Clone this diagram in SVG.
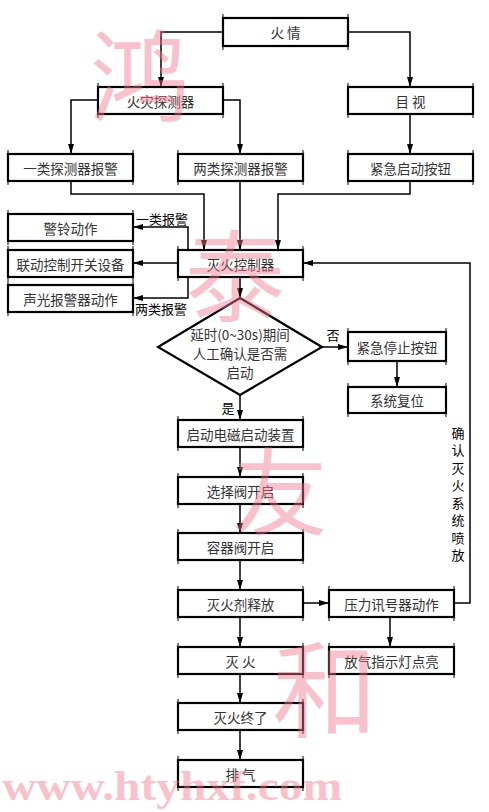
<svg xmlns="http://www.w3.org/2000/svg" width="489" height="812" viewBox="0 0 489 812">
<defs>
<marker id="arr" viewBox="0 0 10 6" refX="10" refY="3" markerWidth="10" markerHeight="6" markerUnits="userSpaceOnUse" orient="auto">
<path d="M0,0 L10,3 L0,6 z" fill="#000"/>
</marker>
<style>
.box{fill:#fff;stroke:#000;stroke-width:2.2}
.tick{stroke:#000;stroke-width:1}
.t{font-family:"Noto Sans CJK SC","Noto Sans",sans-serif;font-size:13.5px;fill:#333;text-anchor:middle;dominant-baseline:central}
.lbl{font-family:"Noto Sans CJK SC","Noto Sans",sans-serif;font-size:13px;fill:#000;text-anchor:middle;dominant-baseline:central}
.c{fill:none;stroke:#000;stroke-width:1.5}
.c2{fill:none;stroke:#000;stroke-width:1.5;marker-end:url(#arr)}
.wm{font-family:"Noto Sans CJK SC",sans-serif;fill:#f07890;opacity:0.45;text-anchor:middle;dominant-baseline:central}
</style>
</defs>
<rect width="489" height="812" fill="#fff"/>

<g id="connectors">
<path class="c2" d="M223,32 H161 V87"/>
<path class="c2" d="M348,32 H410 V87"/>
<path class="c2" d="M98,100 H71 V154"/>
<path class="c2" d="M223,100 H240 V154"/>
<path class="c2" d="M410,114 V154"/>
<path class="c2" d="M71,181 V194 H204 V250"/>
<path class="c2" d="M240,181 V250"/>
<path class="c2" d="M410,181 V194 H278 V250"/>
<path class="c2" d="M188,250 V227 H133"/>
<path class="c2" d="M178,263 H133"/>
<path class="c2" d="M188,277 V298 H133"/>
<path class="c2" d="M240,277 V298"/>
<path class="c2" d="M322,347 H348"/>
<path class="c2" d="M397,361 V387"/>
<path class="c2" d="M240,395 V420"/>
<path class="c2" d="M240,447 V477"/>
<path class="c2" d="M240,504 V533"/>
<path class="c2" d="M240,560 V590"/>
<path class="c2" d="M240,617 V647"/>
<path class="c2" d="M240,674 V703"/>
<path class="c2" d="M240,730 V760"/>
<path class="c2" d="M303,603 H329"/>
<path class="c2" d="M390,617 V647"/>
<path class="c2" d="M454,603 H470 V263 H303"/>
<text class="lbl" x="162" y="218.5">一类报警</text>
<text class="lbl" x="161" y="308.5">两类报警</text>
<text class="lbl" x="333" y="334">否</text>
<text class="lbl" x="228" y="407">是</text>
<g class="lbl">
<text x="458" y="432">确</text>
<text x="458" y="449.5">认</text>
<text x="458" y="467">灭</text>
<text x="458" y="484.5">火</text>
<text x="458" y="502">系</text>
<text x="458" y="519.5">统</text>
<text x="458" y="537">喷</text>
<text x="458" y="554.5">放</text>
</g>
</g>

<g id="n-fire"><rect class="box" x="223" y="18" width="125" height="28"/><path class="tick" d="M223,14V50M348,14V50"/><text class="t" x="285.5" y="32">火  情</text></g>
<g id="n-detector"><rect class="box" x="98" y="87" width="125" height="27"/><path class="tick" d="M98,83V118M223,83V118"/><text class="t" x="160.5" y="100.5">火灾探测器</text></g>
<g id="n-visual"><rect class="box" x="348" y="87" width="125" height="27"/><path class="tick" d="M348,83V118M473,83V118"/><text class="t" x="410.5" y="100.5">目  视</text></g>
<g id="n-class1"><rect class="box" x="8" y="154" width="125" height="27"/><path class="tick" d="M8,150V185M133,150V185"/><text class="t" x="70.5" y="167.5">一类探测器报警</text></g>
<g id="n-class2"><rect class="box" x="178" y="154" width="125" height="27"/><path class="tick" d="M178,150V185M303,150V185"/><text class="t" x="240.5" y="167.5">两类探测器报警</text></g>
<g id="n-estart"><rect class="box" x="348" y="154" width="125" height="27"/><path class="tick" d="M348,150V185M473,150V185"/><text class="t" x="410.5" y="167.5">紧急启动按钮</text></g>
<g id="n-bell"><rect class="box" x="8" y="214" width="125" height="27"/><path class="tick" d="M8,210V245M133,210V245"/><text class="t" x="70.5" y="227.5">警铃动作</text></g>
<g id="n-linkage"><rect class="box" x="8" y="250" width="125" height="27"/><path class="tick" d="M8,246V281M133,246V281"/><text class="t" x="70.5" y="263.5">联动控制开关设备</text></g>
<g id="n-alarm"><rect class="box" x="8" y="285" width="125" height="27"/><path class="tick" d="M8,281V316M133,281V316"/><text class="t" x="70.5" y="298.5">声光报警器动作</text></g>
<g id="n-controller"><rect class="box" x="178" y="250" width="125" height="27"/><path class="tick" d="M178,246V281M303,246V281"/><text class="t" x="240.5" y="263.5">灭火控制器</text></g>
<g id="n-decision"><path d="M240,298 L322,347 L240,395 L158,347 Z" fill="#fff" stroke="#000" stroke-width="2.2"/><text class="t" x="240" y="334">延时(0~30s)期间</text><text class="t" x="240" y="353">人工确认是否需</text><text class="t" x="240" y="372">启动</text></g>
<g id="n-estop"><rect class="box" x="348" y="332" width="98" height="29"/><path class="tick" d="M348,328V365M446,328V365"/><text class="t" x="397" y="346.5">紧急停止按钮</text></g>
<g id="n-reset"><rect class="box" x="348" y="387" width="98" height="26"/><path class="tick" d="M348,383V417M446,383V417"/><text class="t" x="397" y="400">系统复位</text></g>
<g id="n-start"><rect class="box" x="178" y="420" width="125" height="27"/><path class="tick" d="M178,416V451M303,416V451"/><text class="t" x="240.5" y="433.5">启动电磁启动装置</text></g>
<g id="n-select"><rect class="box" x="178" y="477" width="125" height="27"/><path class="tick" d="M178,473V508M303,473V508"/><text class="t" x="240.5" y="490.5">选择阀开启</text></g>
<g id="n-container"><rect class="box" x="178" y="533" width="125" height="27"/><path class="tick" d="M178,529V564M303,529V564"/><text class="t" x="240.5" y="546.5">容器阀开启</text></g>
<g id="n-release"><rect class="box" x="178" y="590" width="125" height="27"/><path class="tick" d="M178,586V621M303,586V621"/><text class="t" x="240.5" y="603.5">灭火剂释放</text></g>
<g id="n-pressure"><rect class="box" x="329" y="590" width="125" height="27"/><path class="tick" d="M329,586V621M454,586V621"/><text class="t" x="391.5" y="603.5">压力讯号器动作</text></g>
<g id="n-indicator"><rect class="box" x="329" y="647" width="125" height="27"/><path class="tick" d="M329,643V678M454,643V678"/><text class="t" x="391.5" y="660.5">放气指示灯点亮</text></g>
<g id="n-extinguish"><rect class="box" x="178" y="647" width="125" height="27"/><path class="tick" d="M178,643V678M303,643V678"/><text class="t" x="240.5" y="660.5">灭  火</text></g>
<g id="n-end"><rect class="box" x="178" y="703" width="125" height="27"/><path class="tick" d="M178,699V734M303,699V734"/><text class="t" x="240.5" y="716.5">灭火终了</text></g>
<g id="n-exhaust"><rect class="box" x="178" y="760" width="125" height="27"/><path class="tick" d="M178,756V791M303,756V791"/><text class="t" x="240.5" y="773.5">排  气</text></g>

<g id="watermark">
<text class="wm" x="140" y="70" font-size="100">鸿</text>
<text class="wm" x="235" y="270" font-size="100">泰</text>
<text class="wm" x="280" y="486" font-size="95">友</text>
<text class="wm" x="325" y="683" font-size="105">和</text>
<text x="2" y="800" font-family="Liberation Serif,serif" font-weight="bold" font-size="42" fill="#f07890" opacity="0.45" textLength="340" lengthAdjust="spacingAndGlyphs">www.htyhxf.com</text>
</g>
</svg>
